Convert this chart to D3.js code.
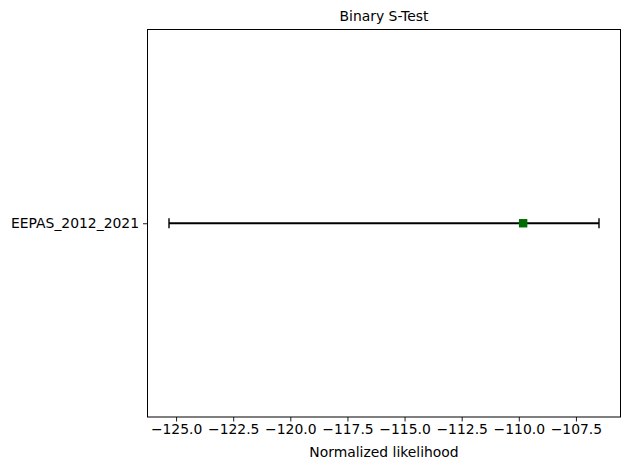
<!DOCTYPE html>
<html>
<head>
<meta charset="utf-8">
<script src="https://cdn.jsdelivr.net/npm/d3@7"></script>
<style>
  body { margin: 0; background: #fff; }
  text { font-family: "DejaVu Sans", sans-serif; fill: #000; }
</style>
</head>
<body>
<div class="canvas"></div>
<script>
// values
const models = ["EEPAS_2012_2021"];
const observed = [-109.81];
const lower = [-125.31];
const upper = [-106.49];
const xTicks = [-125.0, -122.5, -120.0, -117.5, -115.0, -112.5, -110.0, -107.5];

const width = 630, height = 470;
const margin = {top: 29.5, right: 9.5, bottom: 53, left: 147.5};
const fontPx = 13.9;

const svg = d3.select(".canvas").append("svg")
    .attr("width", width)
    .attr("height", height);

// matplotlib style 5% margin on the data span
const lo = d3.min(lower), hi = d3.max(upper);
const pad = (hi - lo) * 0.05;

const x = d3.scaleLinear()
    .domain([lo - pad, hi + pad])
    .range([margin.left, width - margin.right]);

const y = d3.scalePoint()
    .domain(models)
    .range([margin.top, height - margin.bottom])
    .padding(0.5);

const fmt = d => d3.format(".1f")(d).replace("-", "\u2212");

const xAxis = svg.append("g")
    .attr("transform", `translate(0,${height - margin.bottom})`)
    .call(d3.axisBottom(x).tickValues(xTicks).tickFormat(fmt).tickSizeOuter(0).tickSize(4.5).tickPadding(3));
xAxis.attr("font-size", fontPx).attr("font-family", "DejaVu Sans");
xAxis.select(".domain").remove();
xAxis.selectAll("line").attr("stroke-width", 0.9);

const yAxis = svg.append("g")
    .attr("transform", `translate(${margin.left},0)`)
    .call(d3.axisLeft(y).tickSizeOuter(0).tickSize(4.5).tickPadding(4));
yAxis.attr("font-size", fontPx).attr("font-family", "DejaVu Sans");
yAxis.select(".domain").remove();
yAxis.selectAll("line").attr("stroke-width", 0.9);

// frame
svg.append("rect")
    .attr("x", margin.left)
    .attr("y", margin.top)
    .attr("width", width - margin.left - margin.right)
    .attr("height", height - margin.top - margin.bottom)
    .attr("fill", "none")
    .attr("stroke", "#000")
    .attr("stroke-width", 1);

// error bars
const rows = models.map((m, i) => ({m, obs: observed[i], lo: lower[i], hi: upper[i]}));
const bars = svg.append("g").selectAll("g").data(rows).join("g");

bars.append("line")
    .attr("x1", d => x(d.lo)).attr("x2", d => x(d.hi))
    .attr("y1", d => y(d.m)).attr("y2", d => y(d.m))
    .attr("stroke", "#000").attr("stroke-width", 2);

bars.selectAll(".cap").data(d => [{v: d.lo, m: d.m}, {v: d.hi, m: d.m}]).join("line")
    .attr("class", "cap")
    .attr("x1", d => x(d.v)).attr("x2", d => x(d.v))
    .attr("y1", d => y(d.m) - 5).attr("y2", d => y(d.m) + 5)
    .attr("stroke", "#000").attr("stroke-width", 1.4);

bars.append("rect")
    .attr("x", d => x(d.obs) - 4.2)
    .attr("y", d => y(d.m) - 4.2)
    .attr("width", 8.4).attr("height", 8.4)
    .attr("fill", "#006b00");

// title and label
svg.append("text")
    .attr("x", (margin.left + width - margin.right) / 2)
    .attr("y", 21)
    .attr("text-anchor", "middle")
    .attr("font-size", fontPx)
    .text("Binary S-Test");

svg.append("text")
    .attr("x", (margin.left + width - margin.right) / 2)
    .attr("y", 457)
    .attr("text-anchor", "middle")
    .attr("font-size", fontPx)
    .text("Normalized likelihood");
</script>
</body>
</html>
